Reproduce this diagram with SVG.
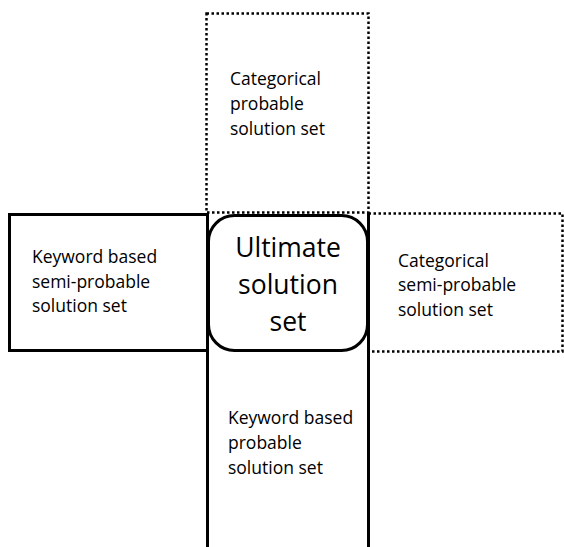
<svg xmlns="http://www.w3.org/2000/svg" width="564" height="547" viewBox="0 0 564 547">
<style>
.solid{fill:none;stroke:#000;stroke-width:3}
.dot{fill:none;stroke:#000;stroke-width:2.5;stroke-dasharray:2.5 2.5}
.t{font-family:"Open Sans","Noto Sans",sans-serif;font-size:17.5px;fill:#000}
.big{font-family:"Open Sans","Noto Sans",sans-serif;font-size:26.5px;fill:#000;text-anchor:middle}
</style>
<rect width="564" height="547" fill="#fff"/>
<g id="top">
<rect class="dot" x="206.5" y="13.5" width="162" height="199"/>
<text class="t"><tspan x="230" y="85">Categorical</tspan><tspan x="230" y="110">probable</tspan><tspan x="230" y="135">solution set</tspan></text>
</g>
<g id="right">
<rect class="dot" x="368.5" y="213.5" width="194" height="138"/>
<text class="t"><tspan x="398" y="267">Categorical</tspan><tspan x="398" y="291">semi-probable</tspan><tspan x="398" y="316">solution set</tspan></text>
</g>
<g id="left">
<rect class="solid" x="9.5" y="214.5" width="198" height="136"/>
<text class="t"><tspan x="32" y="263">Keyword based</tspan><tspan x="32" y="288">semi-probable</tspan><tspan x="32" y="312">solution set</tspan></text>
</g>
<g id="bottom">
<path class="solid" d="M207.5 213 V547 M368.5 213 V547"/>
<text class="t"><tspan x="228" y="424">Keyword based</tspan><tspan x="228" y="449">probable</tspan><tspan x="228" y="474">solution set</tspan></text>
</g>
<g id="center">
<rect class="solid" x="208.5" y="215.5" width="159" height="135" rx="26" ry="26" fill="#fff"/>
<text class="big"><tspan x="288" y="257">Ultimate</tspan><tspan x="288" y="294">solution</tspan><tspan x="288" y="331">set</tspan></text>
</g>
<g id="connectors"></g>
</svg>
